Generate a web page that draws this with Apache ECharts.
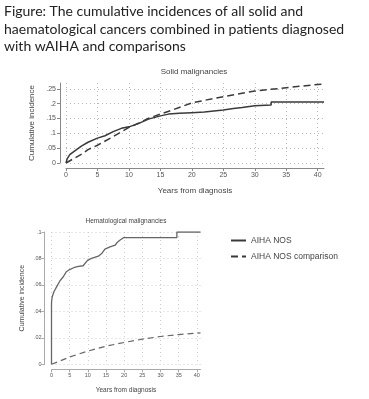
<!DOCTYPE html>
<html>
<head>
<meta charset="utf-8">
<script src="https://cdn.jsdelivr.net/npm/echarts@6/dist/echarts.min.js"></script>
<style>
html,body{margin:0;padding:0;background:#fff;}
#chart{width:369px;height:399px;}
</style>
</head>
<body>
<div id="chart"></div>
<script>
// ---- Data ----
var figureTitle = 'Figure: The cumulative incidences of all solid and\nhaematological cancers combined in patients diagnosed\nwith wAIHA and comparisons';
var solidTitle = 'Solid malignancies';
var hemaTitle = 'Hematological malignancies';
var seriesNames = ['AIHA NOS', 'AIHA NOS comparison'];
var xAxisTitle = 'Years from diagnosis';
var yAxisTitle = 'Cumulative incidence';

// Solid malignancies
var solidAihaYears = [0, 0.2, 0.6, 1.4, 2.5, 3.5, 5, 6.2, 7.5, 8.8, 10, 11.5, 13.1, 15, 16.3, 18, 20, 22, 25, 26.6, 28, 30, 32.6, 32.6, 41];
var solidAihaValues = [0, 0.015, 0.028, 0.041, 0.058, 0.070, 0.084, 0.092, 0.106, 0.117, 0.122, 0.133, 0.148, 0.159, 0.165, 0.168, 0.170, 0.172, 0.179, 0.184, 0.187, 0.193, 0.196, 0.206, 0.206];
var solidCompYears = [0, 1.4, 2.5, 3.5, 5, 7.5, 10, 11.5, 13, 15, 16.8, 20, 25, 30, 35, 40, 41];
var solidCompValues = [0, 0.017, 0.030, 0.045, 0.060, 0.089, 0.120, 0.134, 0.150, 0.165, 0.178, 0.203, 0.224, 0.243, 0.254, 0.265, 0.267];

// Hematological malignancies
var hemaAihaYears = [0, 0, 0.05, 0.2, 0.7, 1.4, 2.3, 3.2, 4.1, 5, 6.1, 7.4, 8.7, 9.2, 9.9, 11, 12.9, 13.8, 14.7, 16.1, 17.5, 18.2, 18.9, 19.8, 34.5, 34.5, 41];
var hemaAihaValues = [0, 0.046, 0.048, 0.051, 0.055, 0.0585, 0.063, 0.066, 0.070, 0.0716, 0.073, 0.074, 0.0745, 0.076, 0.0786, 0.080, 0.0817, 0.0837, 0.087, 0.0887, 0.090, 0.0925, 0.094, 0.0957, 0.0957, 0.1, 0.1];
var hemaCompYears = [0, 5, 10, 15, 20, 25, 30, 35, 40, 41];
var hemaCompValues = [0, 0.0055, 0.010, 0.0137, 0.0165, 0.019, 0.021, 0.0225, 0.0235, 0.0237];

// ---- Build ----
function pairs(xs, ys) { return xs.map(function (x, i) { return [x, ys[i]]; }); }
function fmt(v) {
  var s = +(+v).toFixed(3);
  if (s === 0) return '0';
  return String(s).replace(/^0\./, '.');
}
var FONT = 'Liberation Sans';

function xAxisCfg(gi, o) {
  return {
    gridIndex: gi, type: 'value', min: 0, max: 41, interval: 5, offset: o.offset,
    name: xAxisTitle, nameLocation: 'middle', nameGap: o.nameGap,
    nameTextStyle: { fontSize: o.nameSize, color: '#444', fontFamily: FONT },
    axisLine: { show: true, onZero: false, lineStyle: { color: o.axisColor, width: 1 } },
    axisTick: { show: true, length: 3, lineStyle: { color: o.axisColor } },
    axisLabel: { fontSize: o.labelSize, color: '#555', margin: o.labelMargin, fontFamily: FONT, showMaxLabel: false },
    splitLine: { show: true, showMaxLine: false, lineStyle: { type: [1, 3], color: o.gridColor, width: 1 } }
  };
}
function yAxisCfg(gi, o) {
  return {
    gridIndex: gi, type: 'value', min: 0, max: o.max, interval: o.interval, offset: o.offset,
    name: yAxisTitle, nameLocation: 'middle', nameGap: o.nameGap, nameRotate: 90,
    nameTextStyle: { fontSize: o.nameSize, color: '#444', fontFamily: FONT },
    axisLine: { show: true, onZero: false, lineStyle: { color: o.axisColor, width: 1 } },
    axisTick: { show: true, length: 3, lineStyle: { color: o.axisColor } },
    axisLabel: { fontSize: o.labelSize, color: '#555', margin: o.labelMargin, fontFamily: FONT, formatter: fmt, showMaxLabel: o.showMax },
    splitLine: { show: true, showMaxLine: o.showMax, lineStyle: { type: [1, 3], color: o.gridColor, width: 1 } }
  };
}

var chart = echarts.init(document.getElementById('chart'), null, { renderer: 'canvas' });
chart.setOption({
  animation: false,
  backgroundColor: '#fff',
  title: [{
    text: figureTitle, left: 4, top: 3, padding: 0,
    textStyle: { fontFamily: 'Lato', fontSize: 14, fontWeight: 'normal', color: '#222', lineHeight: 17.5 }
  }],
  graphic: [
    { type: 'text', x: 194, y: 72, style: { text: solidTitle, fontSize: 8, fontFamily: FONT, fill: '#444', textAlign: 'center', textVerticalAlign: 'middle' } },
    { type: 'text', x: 126, y: 221, style: { text: hemaTitle, fontSize: 6.5, fontFamily: FONT, fill: '#444', textAlign: 'center', textVerticalAlign: 'middle' } }
  ],
  legend: {
    data: seriesNames, orient: 'vertical', left: 230, top: 236, itemWidth: 15, itemHeight: 8, itemGap: 7,
    padding: 0, textStyle: { fontSize: 8.5, color: '#444', fontFamily: FONT },
    itemStyle: { opacity: 0 }
  },
  grid: [
    { left: 66, top: 83, width: 258, height: 80 },
    { left: 51.5, top: 232, width: 149, height: 132.3 }
  ],
  xAxis: [
    xAxisCfg(0, { offset: 5, nameGap: 19, nameSize: 8, axisColor: '#888', labelSize: 7, labelMargin: 4, gridColor: '#b8b8b8' }),
    xAxisCfg(1, { offset: 5, nameGap: 17, nameSize: 6.5, axisColor: '#aaa', labelSize: 5.5, labelMargin: 3, gridColor: '#ccc' })
  ],
  yAxis: [
    yAxisCfg(0, { max: 0.27, interval: 0.05, offset: 6, nameGap: 24, nameSize: 8, axisColor: '#888', labelSize: 7, labelMargin: 4, gridColor: '#b8b8b8', showMax: false }),
    yAxisCfg(1, { max: 0.1, interval: 0.02, offset: 7, nameGap: 19, nameSize: 7, axisColor: '#aaa', labelSize: 5.5, labelMargin: 3, gridColor: '#ccc', showMax: true })
  ],
  series: [
    { name: seriesNames[0], type: 'line', xAxisIndex: 0, yAxisIndex: 0, symbol: 'none', data: pairs(solidAihaYears, solidAihaValues),
      lineStyle: { color: '#3a3a3a', width: 1.5 }, itemStyle: { color: '#3a3a3a' } },
    { name: seriesNames[1], type: 'line', xAxisIndex: 0, yAxisIndex: 0, symbol: 'none', data: pairs(solidCompYears, solidCompValues),
      lineStyle: { color: '#3a3a3a', width: 1.5, type: [7, 4] }, itemStyle: { color: '#3a3a3a' } },
    { name: seriesNames[0], type: 'line', xAxisIndex: 1, yAxisIndex: 1, symbol: 'none', data: pairs(hemaAihaYears, hemaAihaValues),
      lineStyle: { color: '#666', width: 1.3 }, itemStyle: { color: '#666' } },
    { name: seriesNames[1], type: 'line', xAxisIndex: 1, yAxisIndex: 1, symbol: 'none', data: pairs(hemaCompYears, hemaCompValues),
      lineStyle: { color: '#666', width: 1.2, type: [6, 4] }, itemStyle: { color: '#666' } }
  ]
});
</script>
</body>
</html>
